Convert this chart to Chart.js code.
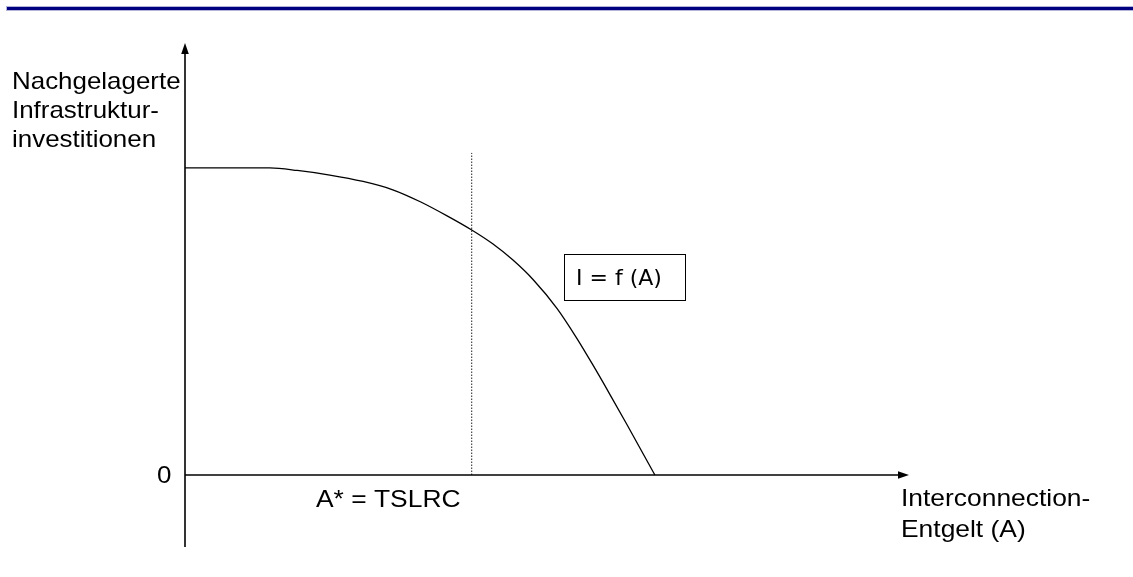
<!DOCTYPE html>
<html>
<head>
<meta charset="utf-8">
<script src="https://cdn.jsdelivr.net/npm/chart.js@4/dist/chart.umd.min.js"></script>
<style>
html,body{margin:0;padding:0;background:#fff;}
#wrap{width:1133px;height:577px;position:relative;}
</style>
</head>
<body>
<div id="wrap"><canvas id="c" width="1133" height="577"></canvas></div>
<script>
// Curve I = f(A): interconnection charge (A) vs. downstream infrastructure investment (I)
const entgeltA = [0, 11.7, 15.5, 20.0, 24.6, 28.7, 32.5, 36.2, 39.6, 42.5, 45.3, 48.1, 51.4, 54.1, 56.4, 58.7, 61.0, 64.9];
const investI  = [100, 100, 99.2, 97.7, 95.6, 92.9, 89.0, 84.4, 79.8, 75.3, 70.0, 63.6, 54.2, 44.6, 35.6, 26.2, 16.6, 0];
// A* = TSLRC marker
const aStar = [39.6, 39.6];
const aStarI = [0, 104.9];
// Texts
const yAxisLabel = ["Nachgelagerte", "Infrastruktur-", "investitionen"];
const xAxisLabel = ["Interconnection-", "Entgelt (A)"];
const zeroLabel = "0";
const aStarLabel = "A* = TSLRC";
const curveLabel = "I = f (A)";

const curvePts = entgeltA.map((x, i) => ({x: x, y: investI[i]}));
const starPts = aStar.map((x, i) => ({x: x, y: aStarI[i]}));

function stretchText(ctx, txt, x, y, sx) {
  ctx.save();
  ctx.translate(x, y);
  ctx.scale(sx, 1);
  ctx.fillText(txt, 0, 0);
  ctx.restore();
}

const deco = {
  id: 'deco',
  beforeDraw(chart) {
    const ctx = chart.ctx;
    ctx.save();
    ctx.fillStyle = '#fff';
    ctx.fillRect(0, 0, chart.width, chart.height);
    // top bar
    ctx.fillStyle = '#b4b4d8';
    ctx.fillRect(6, 6, chart.width - 6, 5);
    ctx.fillStyle = '#000080';
    ctx.fillRect(7, 7, chart.width - 7, 3);
    ctx.restore();
  },
  afterDatasetsDraw(chart) {
    const ctx = chart.ctx;
    const xs = chart.scales.x, ys = chart.scales.y;
    const ca = chart.chartArea;
    const x0 = xs.getPixelForValue(0);
    const y0 = ys.getPixelForValue(0);
    ctx.save();
    ctx.strokeStyle = '#000';
    ctx.fillStyle = '#000';
    ctx.lineWidth = 1.6;
    // y axis
    ctx.beginPath();
    ctx.moveTo(x0, ca.bottom);
    ctx.lineTo(x0, ca.top + 8);
    ctx.stroke();
    ctx.beginPath();
    ctx.moveTo(x0, ca.top);
    ctx.lineTo(x0 - 3.8, ca.top + 11);
    ctx.lineTo(x0 + 3.8, ca.top + 11);
    ctx.closePath();
    ctx.fill();
    // x axis
    ctx.beginPath();
    ctx.moveTo(x0, y0);
    ctx.lineTo(ca.right - 8, y0);
    ctx.stroke();
    ctx.beginPath();
    ctx.moveTo(ca.right, y0);
    ctx.lineTo(ca.right - 11, y0 - 3.8);
    ctx.lineTo(ca.right - 11, y0 + 3.8);
    ctx.closePath();
    ctx.fill();

    // texts
    ctx.font = '24px "Liberation Sans", Arial, sans-serif';
    ctx.textBaseline = 'alphabetic';
    ctx.textAlign = 'left';
    const sx = 1.08;
    stretchText(ctx, yAxisLabel[0], 12, 89, sx);
    stretchText(ctx, yAxisLabel[1], 12, 118, sx);
    stretchText(ctx, yAxisLabel[2], 12, 147, sx);
    stretchText(ctx, zeroLabel, 157, y0 + 8, sx);
    stretchText(ctx, aStarLabel, 316, 507, 1.1);
    stretchText(ctx, xAxisLabel[0], 901, 506, 1.1);
    stretchText(ctx, xAxisLabel[1], 901, 537, 1.1);

    // curve label box
    ctx.lineWidth = 1;
    ctx.strokeRect(564.5, 254.5, 121, 46);
    ctx.font = '22px "DejaVu Sans", Verdana, sans-serif';
    ctx.textBaseline = 'middle';
    ctx.fillText(curveLabel, 576, 279);
    ctx.restore();
  }
};

new Chart(document.getElementById('c'), {
  type: 'scatter',
  data: {
    datasets: [
      {
        data: curvePts,
        showLine: true,
        borderColor: '#000',
        borderWidth: 1.3,
        pointRadius: 0,
        tension: 0.4,
        cubicInterpolationMode: 'monotone',
        clip: false
      },
      {
        data: starPts,
        showLine: true,
        borderColor: '#222',
        borderWidth: 1,
        borderDash: [1.5, 1.5],
        pointRadius: 0,
        clip: false
      }
    ]
  },
  options: {
    responsive: false,
    animation: false,
    devicePixelRatio: 1,
    layout: {padding: {left: 185, right: 224, top: 43, bottom: 30}},
    plugins: {legend: {display: false}, tooltip: {enabled: false}, title: {display: false}},
    scales: {
      x: {type: 'linear', display: false, min: 0, max: 100},
      y: {type: 'linear', display: false, min: -23.45, max: 140.7}
    }
  },
  plugins: [deco]
});
</script>
</body>
</html>
